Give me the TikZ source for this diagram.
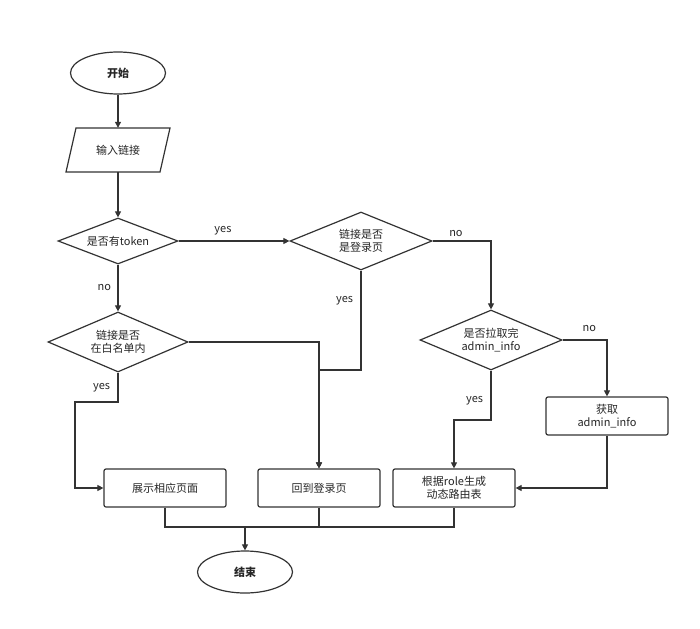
\documentclass[tikz,border=0pt]{standalone}
\usepackage{fontspec}
\setmainfont{Noto Sans CJK SC}
\usetikzlibrary{shapes.geometric,arrows.meta}
\begin{document}
\begin{tikzpicture}[x=1pt,y=-1pt,
  every node/.style={font=\fontsize{11}{13}\selectfont, text=black!85},
  sh/.style={draw=black!80, line width=1.2pt, fill=white, inner sep=0pt, align=center},
  term/.style={sh, ellipse, minimum width=95pt, minimum height=42pt, font=\fontsize{11}{13}\selectfont\bfseries},
  box/.style={sh, rectangle, rounded corners=2pt, minimum width=122pt, minimum height=38pt},
  ln/.style={draw=black!80, line width=1.1pt},
  ar/.style={ln, -{Triangle[length=6pt,width=6pt]}},
  lab/.style={font=\fontsize{11}{13}\selectfont}]
\useasboundingbox (0,0) rectangle (700,628);
\node[term] (start) at (118,73) {开始};
\node[minimum width=95pt, minimum height=44pt, inner sep=0pt] (inp) at (118,150) {};
\draw[sh] (76,128) -- (170,128) -- (160,172) -- (66,172) -- cycle;
\node at (118,150) {输入链接};
\node[sh, diamond, minimum width=120pt, minimum height=46pt] (d1) at (118,241) {};
\node at (118,241) {是否有token};
\node[sh, diamond, minimum width=142pt, minimum height=58pt] (d2) at (361,241) {};
\node at (361,241) [align=center] {链接是否\\是登录页};
\node[sh, diamond, minimum width=142pt, minimum height=60pt] (d3) at (491,340) {};
\node at (491,340) [align=center] {是否拉取完\\admin\_info};
\node[sh, diamond, minimum width=140pt, minimum height=60pt] (dw) at (118,342) {};
\node at (118,342) [align=center] {链接是否\\在白名单内};
\node[box] (get) at (607,416) {获取\\admin\_info};
\node[box] (show) at (165,488) {展示相应页面};
\node[box] (login) at (319,488) {回到登录页};
\node[box] (gen) at (454,488) {根据role生成\\动态路由表};
\node[term] (end) at (245,572) {结束};
\coordinate (j) at (245,527);

\draw[ar] (start) -- (inp);
\draw[ar] (inp) -- (d1);
\draw[ar] (d1.east) -- node[lab, above, pos=0.4, yshift=2pt] {yes} (d2.west);
\draw[ar] (d1.south) -- node[lab, left, xshift=-3pt] {no} (dw.north);
\draw[ar] (d2.east) -| node[lab, pos=0.2, above] {no} (d3.north);
\draw[ar] (d2.south) -- node[lab, left, pos=0.3, xshift=-4pt] {yes} (361,370) -| (login.north);
\draw[ar] (dw.east) -| (login.north);
\draw[ar] (dw.south) -- node[lab, left, pos=0.5, xshift=-4pt] {yes} (118,402) -| (75,488) -- (show.west);
\draw[ar] (d3.east) -| node[lab, pos=0.3, above, yshift=4pt] {no} (get.north);
\draw[ar] (d3.south) -- node[lab, left, pos=0.6, xshift=-4pt] {yes} (491,420) -| (gen.north);
\draw[ar] (get.south) |- (gen.east);
\draw[ln] (show.south) |- (login.south |- j) -- (login.south);
\draw[ln] (login.south |- j) -| (gen.south);
\draw[ar] (j) -- (end.north);
\end{tikzpicture}
\end{document}
